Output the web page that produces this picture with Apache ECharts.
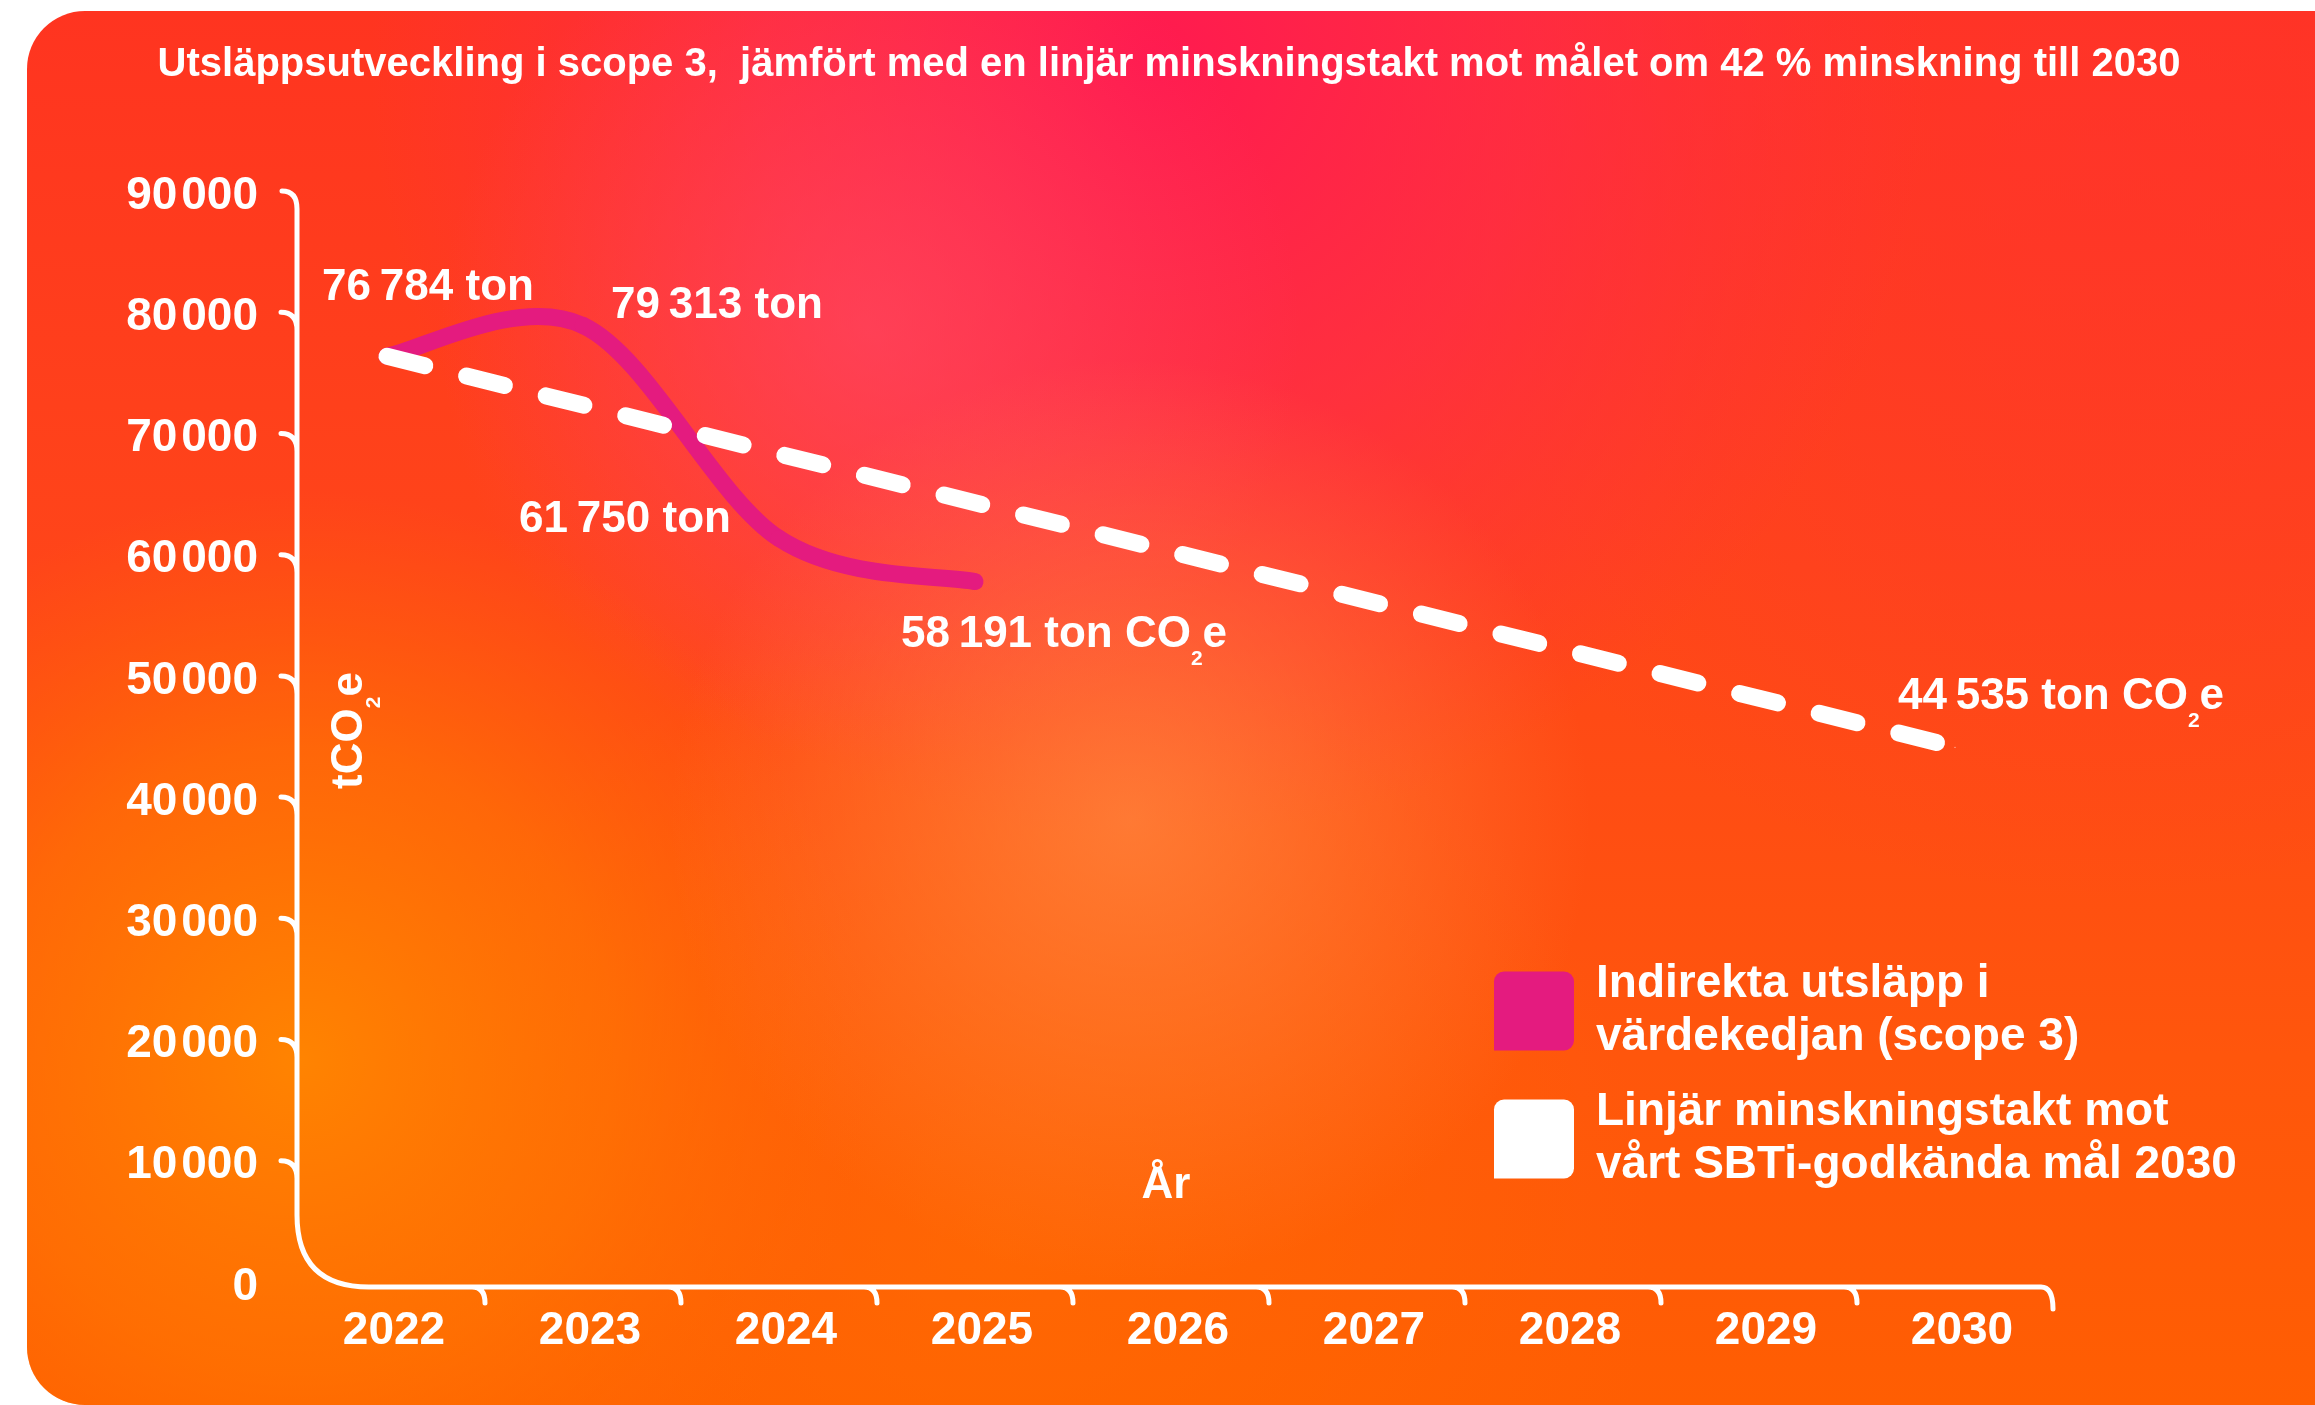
<!DOCTYPE html>
<html>
<head>
<meta charset="utf-8">
<title>Utsläppsutveckling i scope 3</title>
<script src="https://cdn.jsdelivr.net/npm/echarts@6/dist/echarts.min.js"></script>
<style>
  html, body { margin: 0; padding: 0; background: #ffffff; }
  #chart { width: 2315px; height: 1405px; }
</style>
</head>
<body>
<div id="chart"></div>
<script>
// ---- data ----
const years = ['2022', '2023', '2024', '2025', '2026', '2027', '2028', '2029', '2030'];
const scope3Years = ['2022', '2023', '2024', '2025'];
const scope3Values = [76784, 79313, 61750, 58191];
const targetYears = ['2022', '2030'];
const targetValues = [76784, 44535];
const yTicks = [0, 10000, 20000, 30000, 40000, 50000, 60000, 70000, 80000, 90000];

const titleText = 'Utsläppsutveckling i scope 3,  jämfört med en linjär minskningstakt mot målet om 42 % minskning till 2030';
const scope3Name = 'Indirekta utsläpp i\nvärdekedjan (scope 3)';
const targetName = 'Linjär minskningstakt mot\nvårt SBTi-godkända mål 2030';
const xAxisTitle = 'År';

// ---- styling ----
const FONT = "'Liberation Sans', Arial, Helvetica, sans-serif";
const PINK = '#E41B7F';
const WHITE = '#FFFFFF';
const LINE_W = 17;
const AXIS_W = 5;

// thousands grouping with a narrow gap, e.g. 76 784
function fmt(v, sep) {
  return String(v).replace(/\B(?=(\d{3})+(?!\d))/g, sep || '\u2009');
}

const labelRich = {
  n: { fill: WHITE, color: WHITE, fontSize: 44, fontWeight: 'bold', fontFamily: FONT, lineHeight: 70 },
  s: { fill: WHITE, color: WHITE, fontSize: 21, fontWeight: 'bold', fontFamily: FONT, lineHeight: 20, verticalAlign: 'bottom' }
};
function labelText(v, withUnit) {
  return withUnit ? '{n|' + fmt(v) + ' ton CO}{s|2}{n|e}' : '{n|' + fmt(v) + ' ton}';
}

// label placement around each point (label centre minus point)
const scope3LabelOffsets = [[41, -68], [134, -20], [-154, -19], [89, 53]];
const targetLabelOffset = [106, -50];

// scope 3 curve: cubic segments with Catmull-Rom tangents, plus the value labels
function renderScope3(params, api) {
  const i = params.dataIndex;
  const pts = scope3Values.map(function (v, k) {
    return api.coord([years.indexOf(scope3Years[k]), v]);
  });
  const children = [];
  if (i < pts.length - 1) {
    const p0 = pts[Math.max(i - 1, 0)];
    const p1 = pts[i];
    const p2 = pts[i + 1];
    const p3 = pts[Math.min(i + 2, pts.length - 1)];
    const c1 = [p1[0] + (p2[0] - p0[0]) / 6, p1[1] + (p2[1] - p0[1]) / 6];
    const c2 = [p2[0] - (p3[0] - p1[0]) / 6, p2[1] - (p3[1] - p1[1]) / 6];
    children.push({
      type: 'path',
      shape: { pathData: 'M' + p1[0] + ' ' + p1[1] + ' C' + c1[0] + ' ' + c1[1] + ' ' + c2[0] + ' ' + c2[1] + ' ' + p2[0] + ' ' + p2[1] },
      style: { fill: 'none', stroke: PINK, lineWidth: LINE_W, lineCap: 'round', lineJoin: 'round' }
    });
  }
  const off = scope3LabelOffsets[i];
  children.push({
    type: 'text',
    x: pts[i][0] + off[0],
    y: pts[i][1] + off[1],
    z2: 10,
    style: {
      text: labelText(api.value(1), i === pts.length - 1),
      rich: labelRich,
      align: 'center',
      verticalAlign: 'middle',
      fill: WHITE
    }
  });
  return { type: 'group', children: children };
}

const targetData = targetValues.map(function (v, i) {
  const item = { value: [targetYears[i], v] };
  if (i === targetValues.length - 1) {
    item.label = {
      show: true,
      position: 'inside',
      offset: targetLabelOffset,
      formatter: function (p) { return labelText(p.value[1], true); },
      rich: labelRich
    };
  }
  return item;
});

// rounded L-shaped axis frame with small hooked ticks
function renderAxisFrame(params, api) {
  const cs = params.coordSys;
  const band = api.size([1, 0])[0];
  const left = cs.x;
  const right = cs.x + cs.width;
  const base = api.coord([0, yTicks[0]])[1];
  const top = api.coord([0, yTicks[yTicks.length - 1]])[1];
  const ax = left + 8;
  const r = 72;
  let d = 'M' + (ax - 15) + ' ' + (top - 5) +
    ' Q' + ax + ' ' + (top - 5) + ' ' + ax + ' ' + (top + 13) +
    ' L' + ax + ' ' + (base - r) +
    ' Q' + ax + ' ' + base + ' ' + (ax + r) + ' ' + base +
    ' L' + (right - 12) + ' ' + base +
    ' Q' + right + ' ' + base + ' ' + right + ' ' + (base + 22);
  yTicks.slice(1, -1).forEach(function (v) {
    const y = api.coord([0, v])[1];
    d += ' M' + (ax - 16) + ' ' + (y - 5) + ' Q' + ax + ' ' + (y - 5) + ' ' + ax + ' ' + (y + 13);
  });
  years.slice(0, -1).forEach(function (yr, i) {
    const xb = api.coord([i, 0])[0] + band / 2;
    d += ' M' + (xb - 13) + ' ' + base + ' Q' + xb + ' ' + base + ' ' + xb + ' ' + (base + 16);
  });
  return {
    type: 'path',
    shape: { pathData: d },
    style: { fill: 'none', stroke: WHITE, lineWidth: AXIS_W, lineCap: 'round' }
  };
}

// soft colour field behind the chart
const panelShape = { x: 27, y: 11, width: 2400, height: 1394, r: [58, 0, 0, 58] };
function glow(cx, cy, radius, stops) {
  return {
    type: 'rect', z: -100, silent: true, shape: panelShape,
    style: { fill: { type: 'radial', x: cx, y: cy, r: radius, global: true, colorStops: stops } }
  };
}
const background = [
  {
    type: 'rect', z: -100, silent: true, shape: panelShape,
    style: {
      fill: {
        type: 'linear', x: 0, y: 11, x2: 0, y2: 1405, global: true,
        colorStops: [
          { offset: 0, color: '#FF3420' },
          { offset: 0.4, color: '#FF4519' },
          { offset: 0.75, color: '#FF560C' },
          { offset: 1, color: '#FF5E02' }
        ]
      }
    }
  },
  glow(2100, 150, 750, [
    { offset: 0, color: 'rgba(255,50,50,0.5)' },
    { offset: 1, color: 'rgba(255,50,50,0)' }
  ]),
  glow(1000, 1250, 650, [
    { offset: 0, color: 'rgba(255,112,0,0.55)' },
    { offset: 1, color: 'rgba(255,112,0,0)' }
  ]),
  glow(300, 1060, 570, [
    { offset: 0, color: 'rgba(255,134,0,0.95)' },
    { offset: 0.55, color: 'rgba(255,124,0,0.55)' },
    { offset: 1, color: 'rgba(255,110,0,0)' }
  ]),
  glow(1150, 60, 780, [
    { offset: 0, color: 'rgba(255,24,82,0.95)' },
    { offset: 0.5, color: 'rgba(255,36,88,0.55)' },
    { offset: 1, color: 'rgba(255,40,80,0)' }
  ]),
  glow(870, 330, 430, [
    { offset: 0, color: 'rgba(255,80,110,0.5)' },
    { offset: 1, color: 'rgba(255,80,110,0)' }
  ]),
  glow(1130, 820, 460, [
    { offset: 0, color: 'rgba(255,142,70,0.65)' },
    { offset: 1, color: 'rgba(255,142,70,0)' }
  ])
];

const chart = echarts.init(document.getElementById('chart'), null, { renderer: 'canvas' });

chart.setOption({
  animation: false,
  textStyle: { fontFamily: FONT },
  graphic: background,
  title: {
    text: titleText,
    left: 1169,
    top: 45,
    padding: 0,
    textAlign: 'center',
    textStyle: { color: WHITE, fontSize: 40, fontWeight: 'bold', fontFamily: FONT }
  },
  legend: {
    orient: 'vertical',
    left: 1494,
    top: 940,
    padding: 0,
    itemWidth: 80,
    itemHeight: 79,
    itemGap: -14,
    icon: 'path://M0,79 V10 A10,10 0 0 1 10,0 H70 A10,10 0 0 1 80,10 V69 A10,10 0 0 1 70,79 Z',
    itemStyle: { borderWidth: 0 },
    selectedMode: false,
    textStyle: {
      color: WHITE, fontSize: 46, fontWeight: 'bold', fontFamily: FONT,
      lineHeight: 53, padding: [36, 0, 0, 17]
    },
    data: [
      { name: scope3Name, itemStyle: { color: PINK, borderWidth: 0 } },
      { name: targetName, itemStyle: { color: WHITE, borderWidth: 0 } }
    ]
  },
  grid: { left: 289, right: 262, top: 196, bottom: 118, containLabel: false },
  xAxis: {
    type: 'category',
    data: years,
    boundaryGap: true,
    axisLine: { show: false },
    axisTick: { show: false },
    splitLine: { show: false },
    axisLabel: {
      color: WHITE, fontSize: 46, fontWeight: 'bold', fontFamily: FONT, margin: 21,
      padding: [0, 0, 0, 14]
    },
    name: xAxisTitle,
    nameLocation: 'middle',
    nameGap: -101,
    nameTextStyle: {
      color: WHITE, fontSize: 44, fontWeight: 'bold', fontFamily: FONT,
      verticalAlign: 'middle', padding: [0, 10, 0, 0]
    }
  },
  yAxis: {
    type: 'value',
    min: yTicks[0],
    max: yTicks[yTicks.length - 1],
    interval: yTicks[1] - yTicks[0],
    axisLine: { show: false },
    axisTick: { show: false },
    splitLine: { show: false },
    axisLabel: {
      color: WHITE, fontSize: 46, fontWeight: 'bold', fontFamily: FONT, margin: 31,
      padding: [9, 0, 0, 0],
      formatter: function (v) { return fmt(v, '\u200A'); }
    },
    name: '{a|tCO}{b|2}{a|e}',
    nameLocation: 'middle',
    nameRotate: 90,
    nameGap: -61,
    nameTextStyle: {
      verticalAlign: 'middle',
      padding: [0, 0, 0, 22],
      rich: {
        a: { color: WHITE, fontSize: 44, fontWeight: 'bold', fontFamily: FONT, lineHeight: 70 },
        b: { color: WHITE, fontSize: 21, fontWeight: 'bold', fontFamily: FONT, lineHeight: 20, verticalAlign: 'bottom' }
      }
    }
  },
  series: [
    {
      type: 'custom',
      name: 'axisFrame',
      silent: true,
      clip: false,
      z: 1,
      data: [[0, 0]],
      encode: { x: 0, y: 1 },
      renderItem: renderAxisFrame
    },
    {
      type: 'custom',
      name: scope3Name,
      silent: true,
      clip: false,
      z: 3,
      itemStyle: { color: PINK },
      data: scope3Values.map(function (v, k) { return [years.indexOf(scope3Years[k]), v]; }),
      encode: { x: 0, y: 1 },
      renderItem: renderScope3
    },
    {
      type: 'line',
      name: targetName,
      data: targetData,
      symbol: 'circle',
      symbolSize: 1,
      showSymbol: true,
      itemStyle: { color: WHITE },
      lineStyle: { color: WHITE, width: LINE_W, type: [39, 43], cap: 'round' },
      z: 4
    }
  ]
});
</script>
</body>
</html>
